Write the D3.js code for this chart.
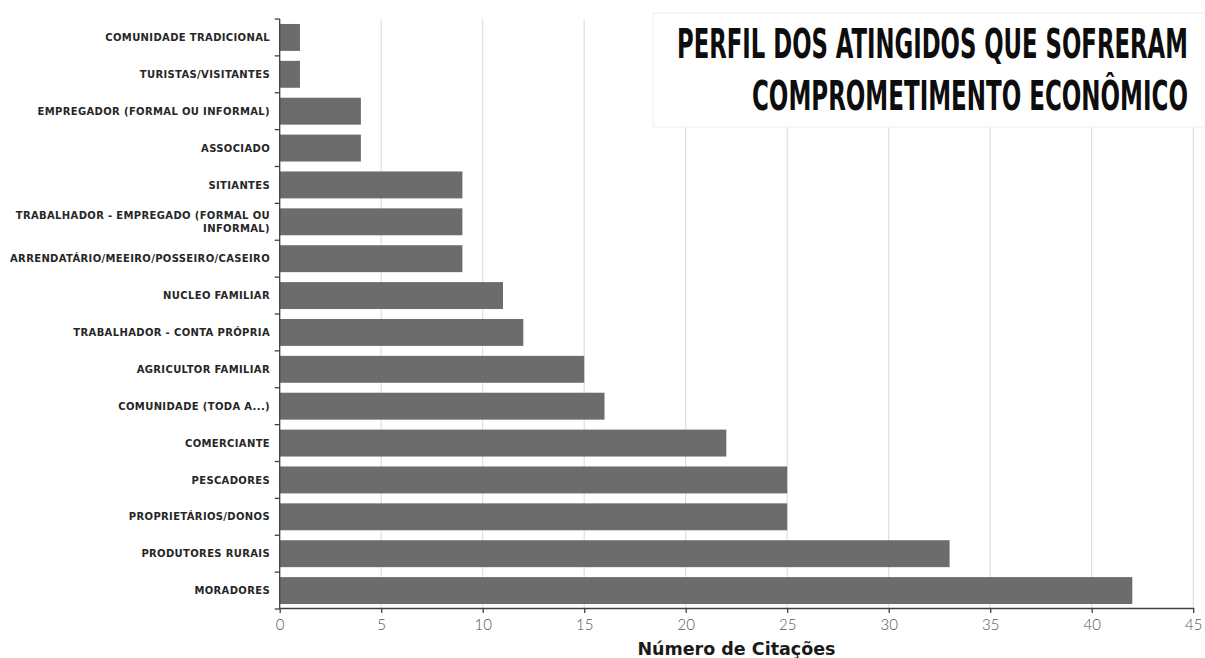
<!DOCTYPE html>
<html><head><meta charset="utf-8">
<script src="https://cdn.jsdelivr.net/npm/d3@7"></script>
<style>body{margin:0;background:#fff}svg{display:block}</style>
</head><body>
<svg id="c" width="1205" height="658"></svg>
<script>
const categories = [
  ["COMUNIDADE TRADICIONAL"],
  ["TURISTAS/VISITANTES"],
  ["EMPREGADOR (FORMAL OU INFORMAL)"],
  ["ASSOCIADO"],
  ["SITIANTES"],
  ["TRABALHADOR - EMPREGADO (FORMAL OU", "INFORMAL)"],
  ["ARRENDATÁRIO/MEEIRO/POSSEIRO/CASEIRO"],
  ["NUCLEO FAMILIAR"],
  ["TRABALHADOR - CONTA PRÓPRIA"],
  ["AGRICULTOR FAMILIAR"],
  ["COMUNIDADE (TODA A...)"],
  ["COMERCIANTE"],
  ["PESCADORES"],
  ["PROPRIETÁRIOS/DONOS"],
  ["PRODUTORES RURAIS"],
  ["MORADORES"]
];
const values = [1, 1, 4, 4, 9, 9, 9, 11, 12, 15, 16, 22, 25, 25, 33, 42];
const xTicks = [0, 5, 10, 15, 20, 25, 30, 35, 40, 45];
const titleLines = ["PERFIL DOS ATINGIDOS QUE SOFRERAM", "COMPROMETIMENTO ECONÔMICO"];
const xTitle = "Número de Citações";

const svg = d3.select("#c");
const data = categories.map((c, i) => ({key: c.join(" "), lines: c, v: values[i]}));

const x = d3.scaleLinear().domain([0, 45]).range([279.7, 1193.2]);
const y = d3.scaleBand().domain(data.map(d => d.key)).range([19, 609])
  .paddingInner(0.27).paddingOuter(0.135);

// gridlines
svg.append("g").selectAll("line").data(xTicks.filter(t => t > 0)).join("line")
  .attr("x1", d => x(d)).attr("x2", d => x(d))
  .attr("y1", 19).attr("y2", 608)
  .attr("stroke", "#d9d9d9").attr("stroke-width", 1);

// title box
svg.append("rect").attr("x", 653).attr("y", 13).attr("width", 560).attr("height", 114)
  .attr("fill", "#fff").attr("stroke", "#eeeeee");

// bars
svg.append("g").selectAll("rect").data(data).join("rect")
  .attr("x", x(0)).attr("y", d => y(d.key))
  .attr("width", d => x(d.v) - x(0)).attr("height", y.bandwidth())
  .attr("fill", "#6c6c6c");

// y axis line & ticks at band boundaries
const step = y.step();
const y0 = y.range()[0];
svg.append("line").attr("x1", x(0)).attr("x2", x(0)).attr("y1", y0).attr("y2", 609)
  .attr("stroke", "#404040").attr("stroke-width", 1.3);
svg.append("g").selectAll("line").data(d3.range(data.length + 1)).join("line")
  .attr("x1", x(0) - 5).attr("x2", x(0))
  .attr("y1", i => y0 + i * step).attr("y2", i => y0 + i * step)
  .attr("stroke", "#404040").attr("stroke-width", 1.3);

// y labels
const lab = svg.append("g").selectAll("text").data(data).join("text")
  .attr("text-anchor", "end")
  .attr("font-family", "'DejaVu Sans', sans-serif")
  .attr("font-weight", "bold").attr("font-size", "10px").attr("fill", "#262626")
  .attr("letter-spacing", "0.35px")
  .attr("transform", d => `translate(270,${y(d.key) + y.bandwidth() / 2})`);
lab.each(function(d) {
  const n = d.lines.length;
  d3.select(this).selectAll("tspan").data(d.lines).join("tspan")
    .attr("x", 0)
    .attr("y", (t, i) => (i - (n - 1) / 2) * 13 + 3.6)
    .text(t => t);
});

// x axis
const xAxis = d3.axisBottom(x).tickValues(xTicks).tickSize(5).tickSizeOuter(0);
const gx = svg.append("g").attr("transform", "translate(0,608)").call(xAxis);
gx.select(".domain").attr("stroke", "#404040").attr("stroke-width", 1.3);
gx.selectAll(".tick line").attr("stroke", "#404040").attr("stroke-width", 1.3);
gx.selectAll(".tick text").attr("font-family", "Lato, sans-serif").attr("font-weight", 300)
  .attr("font-size", "15px").attr("fill", "#555").attr("dy", "0.95em");

// x title
svg.append("text").attr("x", x(0) + (x(45) - x(0)) / 2).attr("y", 655)
  .attr("text-anchor", "middle")
  .attr("font-family", "'DejaVu Sans', sans-serif").attr("font-weight", "bold")
  .attr("font-size", "17.5px").attr("fill", "#1a1a1a").text(xTitle);

// chart title: condensed by horizontal scaling to the reference width
const tl = [{t: titleLines[0], x0: 677, base: 58}, {t: titleLines[1], x0: 752, base: 110}];
svg.append("g").selectAll("text").data(tl).join("text")
  .attr("x", 0).attr("y", 0)
  .attr("font-family", "'Liberation Sans Narrow', 'DejaVu Sans Condensed', sans-serif")
  .attr("font-weight", "bold").attr("font-size", "41px").attr("fill", "#0d0d0d")
  .text(d => d.t)
  .each(function(d) {
    const w = this.getComputedTextLength();
    const sx = (1188 - d.x0) / w;
    d3.select(this).attr("transform", `translate(${d.x0},${d.base}) scale(${sx},1)`);
  });
</script>
</body></html>
